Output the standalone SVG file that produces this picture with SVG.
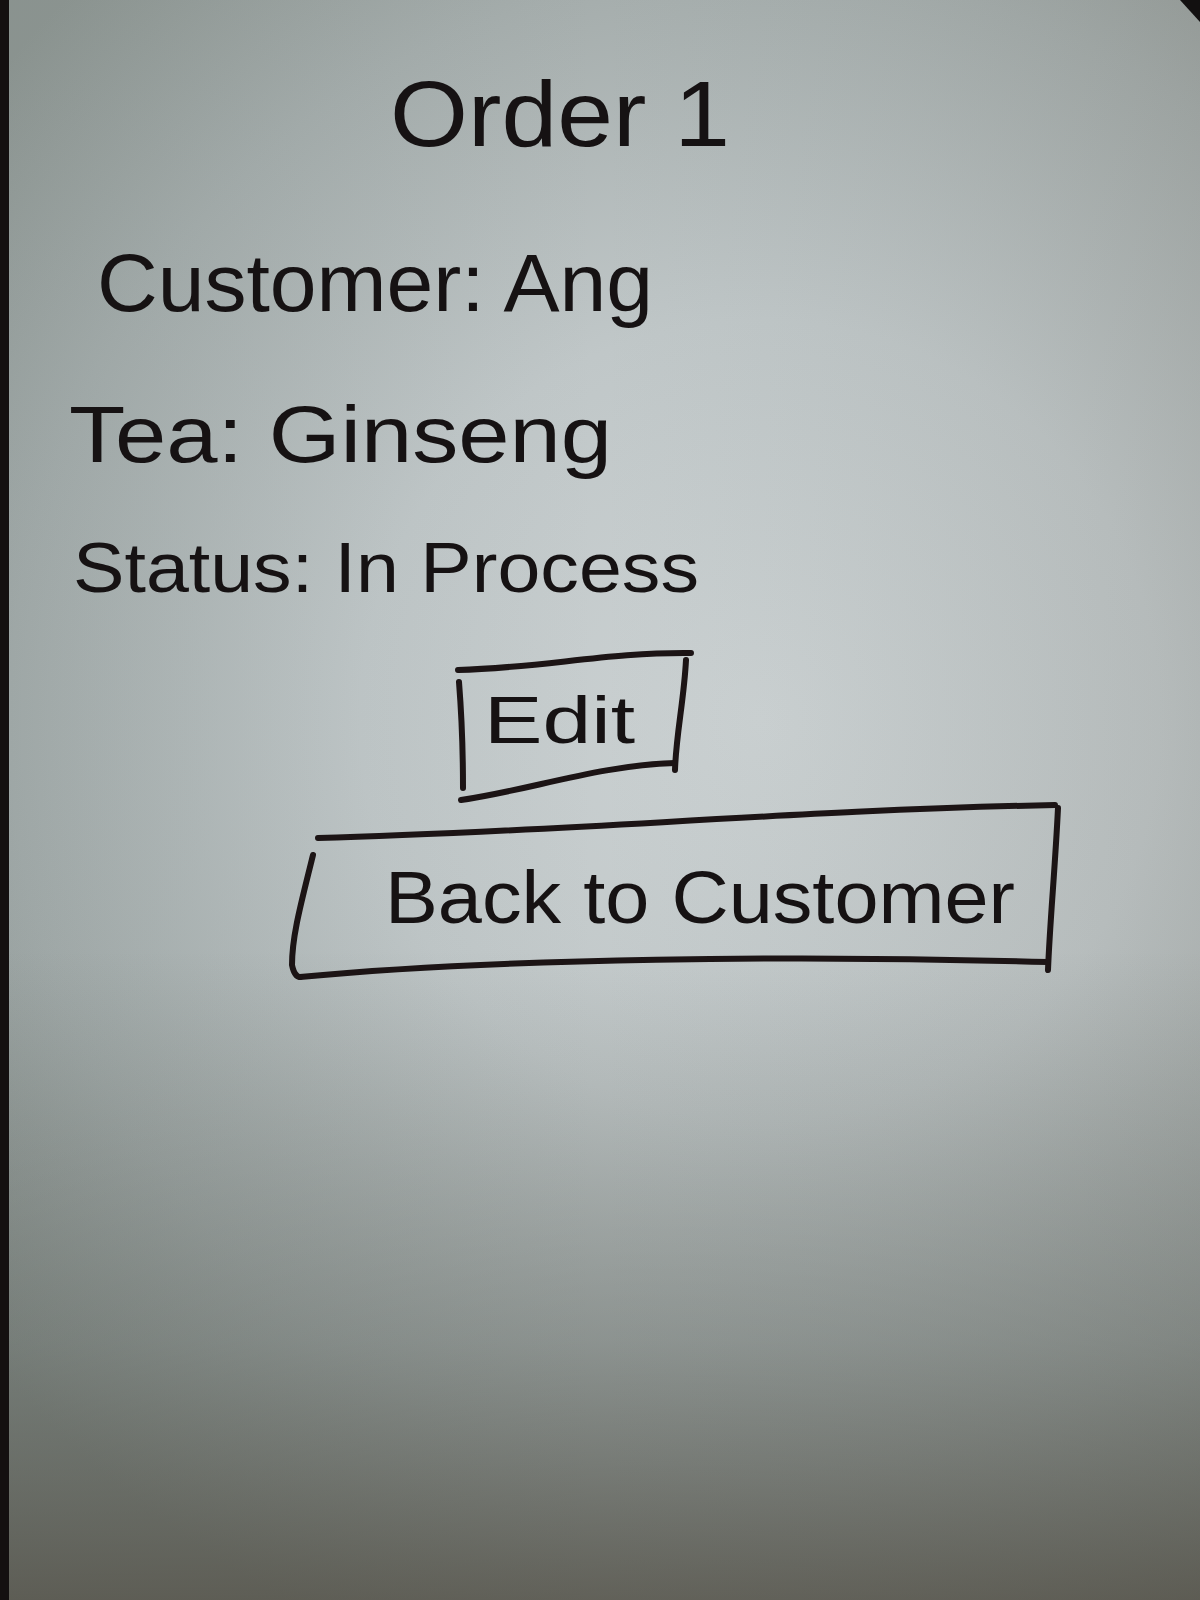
<svg xmlns="http://www.w3.org/2000/svg" width="1200" height="1600" viewBox="0 0 1200 1600">
  <defs>
    <radialGradient id="paper" cx="760" cy="720" r="1000" gradientUnits="userSpaceOnUse">
      <stop offset="0" stop-color="#ccd2d3"/>
      <stop offset="0.4" stop-color="#c0c7c8"/>
      <stop offset="0.75" stop-color="#a5adac"/>
      <stop offset="1" stop-color="#8e9692"/>
    </radialGradient>
    <linearGradient id="bottomShade" x1="0" y1="950" x2="0" y2="1600" gradientUnits="userSpaceOnUse">
      <stop offset="0" stop-color="#4f534c" stop-opacity="0"/>
      <stop offset="0.6" stop-color="#4f534c" stop-opacity="0.35"/>
      <stop offset="1" stop-color="#4a463c" stop-opacity="0.7"/>
    </linearGradient>
    <linearGradient id="sideShade" x1="0" y1="0" x2="1200" y2="0" gradientUnits="userSpaceOnUse">
      <stop offset="0" stop-color="#6c7a7a" stop-opacity="0.12"/>
      <stop offset="0.5" stop-color="#6c7a7a" stop-opacity="0"/>
      <stop offset="1" stop-color="#5a544a" stop-opacity="0.12"/>
    </linearGradient>
  </defs>
  <style>
    .ink { fill: #161213; font-family: "Liberation Sans", "DejaVu Sans", sans-serif; }
    .line { fill: none; stroke: #1c1415; stroke-width: 6; stroke-linecap: round; stroke-linejoin: round; }
  </style>
  <rect x="0" y="0" width="1200" height="1600" fill="url(#paper)"/>
  <rect x="0" y="0" width="1200" height="1600" fill="url(#sideShade)"/>
  <rect x="0" y="0" width="1200" height="1600" fill="url(#bottomShade)"/>
  <rect x="0" y="0" width="9" height="1600" fill="#141010"/>
  <polygon points="1180,0 1200,0 1200,22" fill="#121010"/>

  <g id="title">
    <text class="ink" x="390" y="146" font-size="92" textLength="340" lengthAdjust="spacingAndGlyphs">Order 1</text>
  </g>
  <g id="field-customer">
    <text class="ink" x="97" y="311" font-size="82" textLength="556" lengthAdjust="spacingAndGlyphs">Customer: Ang</text>
  </g>
  <g id="field-tea">
    <text class="ink" x="69" y="462" font-size="80" textLength="543" lengthAdjust="spacingAndGlyphs">Tea: Ginseng</text>
  </g>
  <g id="field-status">
    <text class="ink" x="73" y="592" font-size="70" textLength="626" lengthAdjust="spacingAndGlyphs">Status: In Process</text>
  </g>

  <g id="edit-button">
    <path class="line" d="M458,670 C540,668 610,652 691,653"/>
    <path class="line" d="M686,660 C684,700 676,735 675,770"/>
    <path class="line" d="M461,800 C530,790 600,765 675,763"/>
    <path class="line" d="M459,682 C462,720 463,755 463,788"/>
    <text class="ink" x="484" y="743" font-size="66" textLength="151" lengthAdjust="spacingAndGlyphs">Edit</text>
  </g>

  <g id="back-button">
    <path class="line" d="M318,838 C560,832 800,810 1055,805"/>
    <path class="line" d="M1058,808 C1055,870 1050,920 1048,970"/>
    <path class="line" d="M300,977 C500,958 800,955 1048,962"/>
    <path class="line" d="M313,855 C302,900 292,935 292,965 C294,975 298,977 300,977"/>
    <text class="ink" x="385" y="923" font-size="74" textLength="630" lengthAdjust="spacingAndGlyphs">Back to Customer</text>
  </g>

  <g id="connectors"/>
</svg>
